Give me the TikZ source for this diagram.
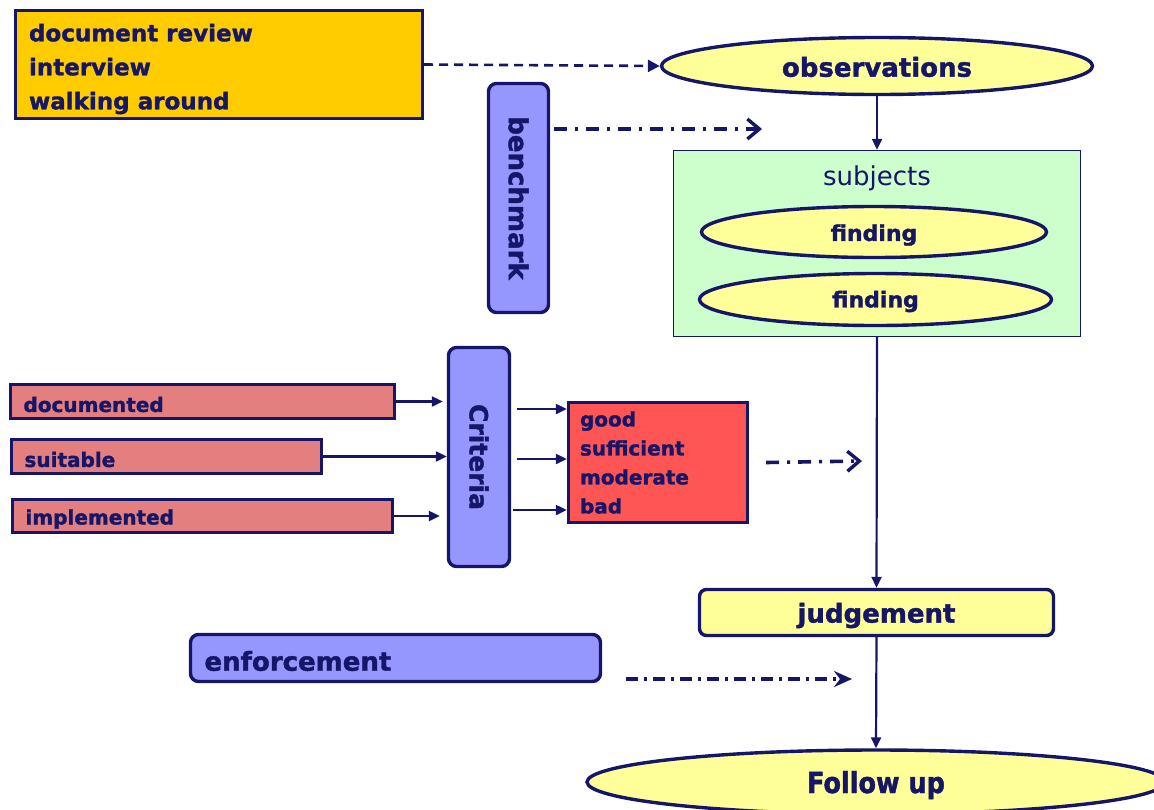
\documentclass[tikz,border=0pt]{standalone}
\usepackage{fontspec}
\setmainfont{DejaVu Sans}[BoldFeatures={FakeBold=1.5}]
\newfontfamily\condfont{DejaVu Sans}[FakeStretch=0.88,BoldFeatures={FakeBold=1.5}]
\usepackage{graphicx}
\usetikzlibrary{arrows.meta,shapes.geometric,calc}
\definecolor{navy}{RGB}{22,22,104}
\definecolor{orange1}{RGB}{255,204,0}
\definecolor{lyellow}{RGB}{255,255,153}
\definecolor{lpurple}{RGB}{150,150,255}
\definecolor{lgreen}{RGB}{204,255,204}
\definecolor{pink1}{RGB}{227,127,127}
\definecolor{red1}{RGB}{255,85,85}
\newcommand\dn[2]{\raisebox{-#1}[\height][\depth]{#2}}
\begin{document}
\begin{tikzpicture}[x=1pt,y=-1pt,
  box/.style={draw=navy,line width=3.4pt,text=navy,inner sep=0pt},
  ell/.style={box,ellipse},
  rbox/.style={box,rounded corners=8pt},
  arr/.style={draw=navy,line width=2.2pt,-{Triangle[length=11pt,width=10pt]}},
  dd/.style={draw=navy,line width=3.6pt,dash pattern=on 13pt off 8pt on 3pt off 8pt,-{Straight Barb[length=12pt,width=20pt,line width=3.4pt]}},
  dde/.style={draw=navy,line width=3.6pt,dash pattern=on 12pt off 6pt on 3pt off 6pt,-{Stealth[length=18pt,width=16pt,inset=6pt]}},
  dsh/.style={draw=navy,line width=2.6pt,dash pattern=on 9pt off 6pt,-{Triangle[length=12pt,width=12pt]}}
]
\useasboundingbox (0,0) rectangle (1154,809);

% top source box
\node[box,fill=orange1,minimum width=407pt,minimum height=108pt,
      font=\fontsize{23}{34}\selectfont\bfseries] (src) at (219,64.5)
      {\dn{4pt}{\begin{tabular}{@{}p{380pt}@{}}document review\\interview\\walking around\end{tabular}}};

% observations
\node[ell,fill=lyellow,minimum width=431pt,minimum height=57pt,
      font=\fontsize{26}{31}\selectfont\bfseries] (obs) at (877,66) {\dn{1pt}{observations}};
\draw[dsh] (src.east) -- (obs.west);

% benchmark
\node[rbox,fill=lpurple,minimum width=60pt,minimum height=229pt,
      font=\fontsize{26}{31}\selectfont\bfseries] (bench) at (518.5,198) {\rotatebox{-90}{benchmark}};
\coordinate (benchend) at (762,129);
\draw[dd] ($(bench.east |- benchend)+(4,0)$) -- (benchend);

% subjects
\node[draw=navy,line width=1.4pt,fill=lgreen,minimum width=407pt,minimum height=186pt] (subj) at (877,243.5) {};
\node[text=navy,font=\fontsize{26}{31}\selectfont] (subjlbl) at (877,178) {subjects};
\node[ell,fill=lyellow,minimum width=345pt,minimum height=51pt,
      font=\fontsize{22}{26}\selectfont\bfseries] (f1) at (874,232) {\dn{3pt}{finding}};
\node[ell,fill=lyellow,minimum width=352pt,minimum height=52pt,
      font=\fontsize{22}{26}\selectfont\bfseries] (f2) at (875.5,299.5) {\dn{2pt}{finding}};
\draw[arr] (obs.south) -- (subj.north);

% criteria
\node[rbox,fill=lpurple,minimum width=61pt,minimum height=219pt,
      font=\fontsize{25}{30}\selectfont\bfseries] (crit) at (479,457) {\rotatebox{-90}{Criteria}};

\node[box,fill=pink1,minimum width=384pt,minimum height=34pt,text width=358pt,align=left,
      font=\fontsize{20}{24}\selectfont\bfseries] (doc) at (202.5,401.5) {\dn{3pt}{documented}};
\node[box,fill=pink1,minimum width=310pt,minimum height=34pt,text width=284pt,align=left,
      font=\fontsize{20}{24}\selectfont\bfseries] (suit) at (166.5,456.5) {\dn{3pt}{suitable}};
\node[box,fill=pink1,minimum width=380pt,minimum height=33pt,text width=354pt,align=left,
      font=\fontsize{20}{24}\selectfont\bfseries] (impl) at (202.5,516) {\dn{3pt}{implemented}};

\draw[arr] (doc.east) -- ($(crit.west |- doc.east)+(-4,0)$);
\draw[arr] (suit.east) -- (crit.west |- suit.east);
\draw[arr] (impl.east) -- ($(crit.west |- impl.east)+(-7,0)$);

% grades
\node[box,fill=red1,minimum width=179pt,minimum height=120pt,text width=156pt,align=left,
      font=\fontsize{20}{29}\selectfont\bfseries] (grade) at (658,462.5) {good\\sufficient\\moderate\\bad};
\coordinate (c1) at ($(crit.east)+(6,-48)$);
\coordinate (c2) at ($(crit.east)+(6,2)$);
\coordinate (c3) at ($(crit.east)+(2,53)$);
\draw[arr] (c1) -- (grade.west |- c1);
\draw[arr] (c2) -- (grade.west |- c2);
\draw[arr] (c3) -- (grade.west |- c3);
\coordinate (gend) at (862,461);
\draw[dd] ($(grade.east)+(17,0)$) -- (gend);

% judgement
\node[rbox,fill=lyellow,minimum width=354pt,minimum height=46pt,rounded corners=7pt,
      font=\fontsize{26}{31}\selectfont\bfseries] (judge) at (876.5,612.5) {\dn{3pt}{judgement}};
\draw[arr] (subj.south) -- (judge.north);

% enforcement
\node[rbox,fill=lpurple,minimum width=410pt,minimum height=47pt,text width=382pt,align=left,
      font=\fontsize{26}{31}\selectfont\bfseries] (enf) at (395.5,658) {\dn{3pt}{enforcement}};
\coordinate (eend) at (852,679);
\draw[dde] ($(enf.east)+(24,21)$) -- (eend);

% follow up
\node[ell,fill=lyellow,minimum width=578pt,minimum height=64pt,
      font=\condfont\fontsize{29}{34}\selectfont\bfseries] (fol) at (876,782) {\dn{3pt}{Follow up}};
\draw[arr] (judge.south) -- (fol.north);
\end{tikzpicture}
\end{document}
